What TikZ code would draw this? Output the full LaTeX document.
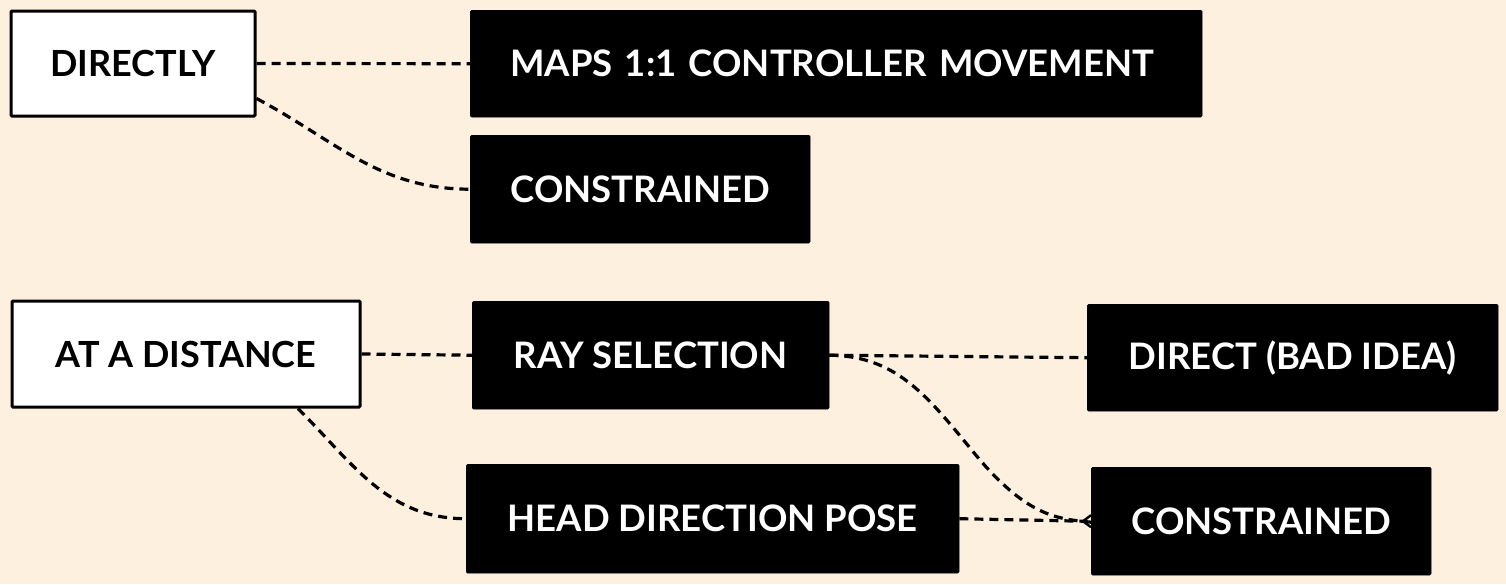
\documentclass[tikz,border=0pt]{standalone}
\usepackage{fontspec}
\setmainfont{Lato}
\usetikzlibrary{arrows.meta}
\definecolor{bgcol}{RGB}{253,240,222}
\tikzset{
  darkbox/.style={draw=black, fill=black, text=white, rounded corners=1.5pt, anchor=north west,
    inner sep=0pt, font=\fontsize{36.5}{40}\selectfont\bfseries},
  lightbox/.style={draw=black, line width=3pt, fill=white, text=black, rounded corners=1pt, anchor=north west,
    inner sep=0pt, font=\fontsize{36}{40}\selectfont\bfseries},
  conn/.style={line width=3.2pt, dash pattern=on 9pt off 6pt},
}
\begin{document}
\begin{tikzpicture}[x=1pt,y=-1pt]
\fill[bgcol] (0,0) rectangle (1506,584);
\useasboundingbox (0,0) rectangle (1506,584);
\node[lightbox, minimum width=244pt, minimum height=105pt] (dir) at (9.5,9.5) {DIRECTLY};
\node[lightbox, minimum width=348pt, minimum height=106pt] (dist) at (10.5,299.5) {AT A DISTANCE};
\node[darkbox, minimum width=732pt, minimum height=107pt, text width=652pt, align=left, inner xsep=40pt] (maps) at (470,10) {MAPS 1:1 CONTROLLER MOVEMENT};
\node[darkbox, minimum width=340pt, minimum height=108pt] (con1) at (470,135) {CONSTRAINED};
\node[darkbox, minimum width=357pt, minimum height=108pt] (ray) at (472,301) {RAY SELECTION};
\node[darkbox, minimum width=493pt, minimum height=109pt] (head) at (466,464) {HEAD DIRECTION POSE};
\node[darkbox, minimum width=411pt, minimum height=107pt] (bad) at (1087,304) {DIRECT (BAD IDEA)};
\node[darkbox, minimum width=340pt, minimum height=108pt] (con2) at (1091,467) {CONSTRAINED};
\draw[conn] (dir.east) -- (maps.west);
\draw[conn] ([yshift=-35pt]dir.east) to[out=-28,in=180] (con1.west);
\draw[conn] (dist.east) -- (ray.west);
\draw[conn] ([xshift=112pt]dist.south) to[out=-45,in=180] (head.west);
\draw[conn] (ray.east) -- (bad.west);
\draw[conn] (ray.east) .. controls (900,356) and (930,400) .. (980,460) .. controls (1030,518) and (1060,519) .. ([yshift=-1pt]con2.west);
\draw[conn] ([yshift=0pt]head.east) -- ([xshift=-7pt]con2.west);
\draw[line width=2.4pt, line join=miter] ([yshift=-6pt]con2.west) -- ([xshift=-8pt]con2.west) -- ([yshift=6pt]con2.west);
\end{tikzpicture}
\end{document}
